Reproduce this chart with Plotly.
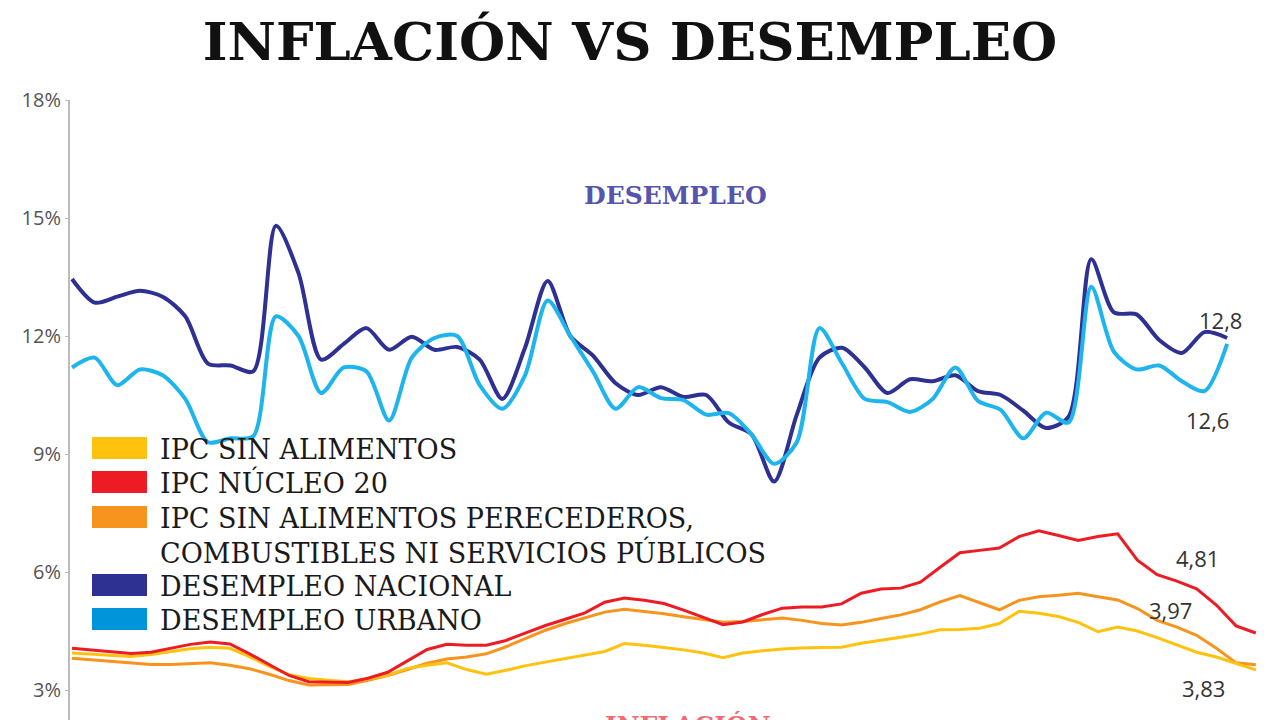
import plotly.graph_objects as go

# ---------------- data ----------------
months_desempleo = list(range(52))
desempleo_nacional = [13.45, 12.85, 13.0, 13.15, 13.0, 12.5, 11.3, 11.25, 11.1, 14.8,
                      13.6, 11.4, 11.8, 12.2, 11.65, 11.98, 11.65, 11.72, 11.4, 10.4,
                      11.7, 13.4, 12.0, 11.5, 10.8, 10.5, 10.7, 10.45, 10.5, 9.8,
                      9.5, 8.3, 10.0, 11.45, 11.7, 11.2, 10.55, 10.9, 10.85, 11.0,
                      10.6, 10.5, 10.1, 9.66, 9.95, 13.95, 12.6, 12.55, 11.9, 11.57,
                      12.1, 11.95]
desempleo_urbano = [11.2, 11.45, 10.75, 11.15, 11.0, 10.4, 9.3, 9.4, 9.45, 12.5,
                    12.0, 10.55, 11.2, 11.1, 9.85, 11.45, 11.95, 12.0, 10.75, 10.15,
                    11.0, 12.9, 12.0, 11.1, 10.15, 10.7, 10.42, 10.37, 10.0, 10.04,
                    9.5, 8.75, 9.3, 12.2, 11.3, 10.4, 10.32, 10.07, 10.4, 11.2,
                    10.35, 10.12, 9.4, 10.05, 9.8, 13.25, 11.6, 11.15, 11.25, 10.85,
                    10.6, 11.8]

months_ipc = list(range(61))
ipc_sin_alimentos = [3.94, 3.91, 3.88, 3.85, 3.9, 3.98, 4.05, 4.09, 4.06, 3.85,
                     3.6, 3.39, 3.29, 3.25, 3.21, 3.28, 3.38, 3.55, 3.63, 3.69,
                     3.52, 3.4, 3.5, 3.62, 3.71, 3.8, 3.88, 3.98, 4.18, 4.14,
                     4.08, 4.02, 3.94, 3.82, 3.94, 4.0, 4.04, 4.07, 4.08, 4.09,
                     4.19, 4.26, 4.34, 4.42, 4.53, 4.54, 4.57, 4.69, 5.0, 4.95,
                     4.87, 4.72, 4.48, 4.6, 4.5, 4.33, 4.15, 3.96, 3.84, 3.68, 3.51]
ipc_nucleo_20 = [4.06, 4.02, 3.98, 3.93, 3.96, 4.06, 4.16, 4.22, 4.17, 3.92,
                 3.64, 3.37, 3.21, 3.2, 3.19, 3.3, 3.45, 3.74, 4.03, 4.16,
                 4.14, 4.14, 4.26, 4.45, 4.64, 4.8, 4.96, 5.23, 5.34, 5.28,
                 5.2, 5.03, 4.85, 4.66, 4.73, 4.92, 5.08, 5.11, 5.11, 5.19,
                 5.46, 5.57, 5.59, 5.74, 6.12, 6.49, 6.55, 6.61, 6.9, 7.05,
                 6.93, 6.8, 6.9, 6.97, 6.3, 5.93, 5.77, 5.57, 5.16, 4.63, 4.45]
ipc_sin_perecederos = [3.81, 3.77, 3.73, 3.69, 3.65, 3.65, 3.67, 3.69, 3.63, 3.54,
                       3.4, 3.24, 3.13, 3.13, 3.14, 3.25, 3.37, 3.52, 3.68, 3.79,
                       3.84, 3.92, 4.1, 4.31, 4.52, 4.69, 4.84, 4.98, 5.05, 5.0,
                       4.94, 4.86, 4.79, 4.72, 4.74, 4.79, 4.83, 4.77, 4.69, 4.65,
                       4.72, 4.82, 4.91, 5.04, 5.24, 5.4, 5.22, 5.04, 5.28, 5.37,
                       5.41, 5.46, 5.37, 5.29, 5.07, 4.77, 4.6, 4.39, 4.06, 3.69, 3.64]

y_ticks = [3, 6, 9, 12, 15, 18]
legend_labels = ["IPC SIN ALIMENTOS", "IPC NÚCLEO 20",
                 "IPC SIN ALIMENTOS PERECEDEROS,",
                 "DESEMPLEO NACIONAL", "DESEMPLEO URBANO"]
legend_extra_line = "COMBUSTIBLES NI SERVICIOS PÚBLICOS"
end_labels = ["12,8", "12,6", "4,81", "3,97", "3,83"]

# ---------------- styles ----------------
C_YEL = "#FFC20E"
C_RED = "#ED1C24"
C_ORA = "#F7941D"
C_NAV = "#2E3192"
C_BLU = "#1EB4EE"
SWATCH = [C_YEL, C_RED, C_ORA, C_NAV, "#0095DA"]
SERIF = "DejaVu Serif"

W, H = 1280, 720
ML, MR, MT, MB = 70, 15, 100, 0
PW, PH = W - ML - MR, H - MT - MB


def px2x(px):
    return (px - ML) / PW


def px2y(py):
    return (H - MB - py) / PH


fig = go.Figure()

ipc_style = dict(mode="lines", xaxis="x2", yaxis="y", hoverinfo="skip", showlegend=False)
fig.add_trace(go.Scatter(x=months_ipc, y=ipc_sin_perecederos, line=dict(color=C_ORA, width=3), **ipc_style))
fig.add_trace(go.Scatter(x=months_ipc, y=ipc_sin_alimentos, line=dict(color=C_YEL, width=3), **ipc_style))
fig.add_trace(go.Scatter(x=months_ipc, y=ipc_nucleo_20, line=dict(color=C_RED, width=3), **ipc_style))

des_style = dict(mode="lines", xaxis="x", yaxis="y", hoverinfo="skip", showlegend=False)
fig.add_trace(go.Scatter(x=months_desempleo, y=desempleo_nacional,
                         line=dict(color=C_NAV, width=4, shape="spline", smoothing=0.8), **des_style))
fig.add_trace(go.Scatter(x=months_desempleo, y=desempleo_urbano,
                         line=dict(color=C_BLU, width=4, shape="spline", smoothing=0.8), **des_style))

# pixel scale of the original: month spacing
u_step, i_step, x0px = 22.65, 19.73, 72
y_px_per_unit = 118 / 3
y_top = 18
y_bottom = y_top - PH / y_px_per_unit

shapes = []
annotations = []


def note(text, px, py, font, xanchor="center"):
    annotations.append(dict(text=text, xref="paper", yref="paper", x=px2x(px), y=px2y(py),
                            xanchor=xanchor, yanchor="middle", align="left", showarrow=False,
                            font=font))


# manual legend
legend_rows = [448, 482, 517, 585, 619]
legend_font = dict(family=SERIF, size=27, color="#1A1A1A")
for row, col, lab in zip(legend_rows, SWATCH, legend_labels):
    shapes.append(dict(type="rect", xref="paper", yref="paper",
                       x0=px2x(92), x1=px2x(147), y0=px2y(row + 11), y1=px2y(row - 11),
                       fillcolor=col, line=dict(width=0), layer="above"))
    note(lab, 158, row + 1, legend_font, xanchor="left")
note(legend_extra_line, 158, 552, legend_font, xanchor="left")

# end labels
end_pos = [(1220, 320), (1207, 420), (1197, 558), (1170, 610), (1203, 688)]
for lab, (px, py) in zip(end_labels, end_pos):
    note(lab, px, py, dict(family="Open Sans", size=22, color="#333333"))

# section labels
note("<b>DESEMPLEO</b>", 676, 196, dict(family=SERIF, size=25, color="#5555AD"))
note("<b>INFLACIÓN</b>", 688, 725, dict(family=SERIF, size=25, color="#F06A73"))

fig.update_layout(
    width=W, height=H,
    margin=dict(l=ML, r=MR, t=MT, b=MB),
    paper_bgcolor="white", plot_bgcolor="white",
    title=dict(text="<b>INFLACIÓN VS DESEMPLEO</b>", x=630 / W, xanchor="center",
               y=1 - 41 / H, yanchor="middle",
               font=dict(family=SERIF, size=53, color="#111111")),
    xaxis=dict(visible=False, range=[(ML - x0px) / u_step, (W - MR - x0px) / u_step]),
    xaxis2=dict(visible=False, overlaying="x", range=[(ML - x0px) / i_step, (W - MR - x0px) / i_step]),
    yaxis=dict(range=[y_bottom, y_top], tickvals=y_ticks, ticktext=[f"{v}%" for v in y_ticks],
               automargin=False,
               showgrid=False, zeroline=False, showline=True, linecolor="#BBBBBB", linewidth=2,
               ticks="outside", ticklen=3, tickcolor="#BBBBBB",
               tickfont=dict(family="Open Sans", size=20, color="#555555")),
    shapes=shapes, annotations=annotations,
    showlegend=False,
)

fig.write_html("out.html", config={"displayModeBar": False},
               post_script="document.body.style.margin='0px';document.body.style.overflow='hidden';")
